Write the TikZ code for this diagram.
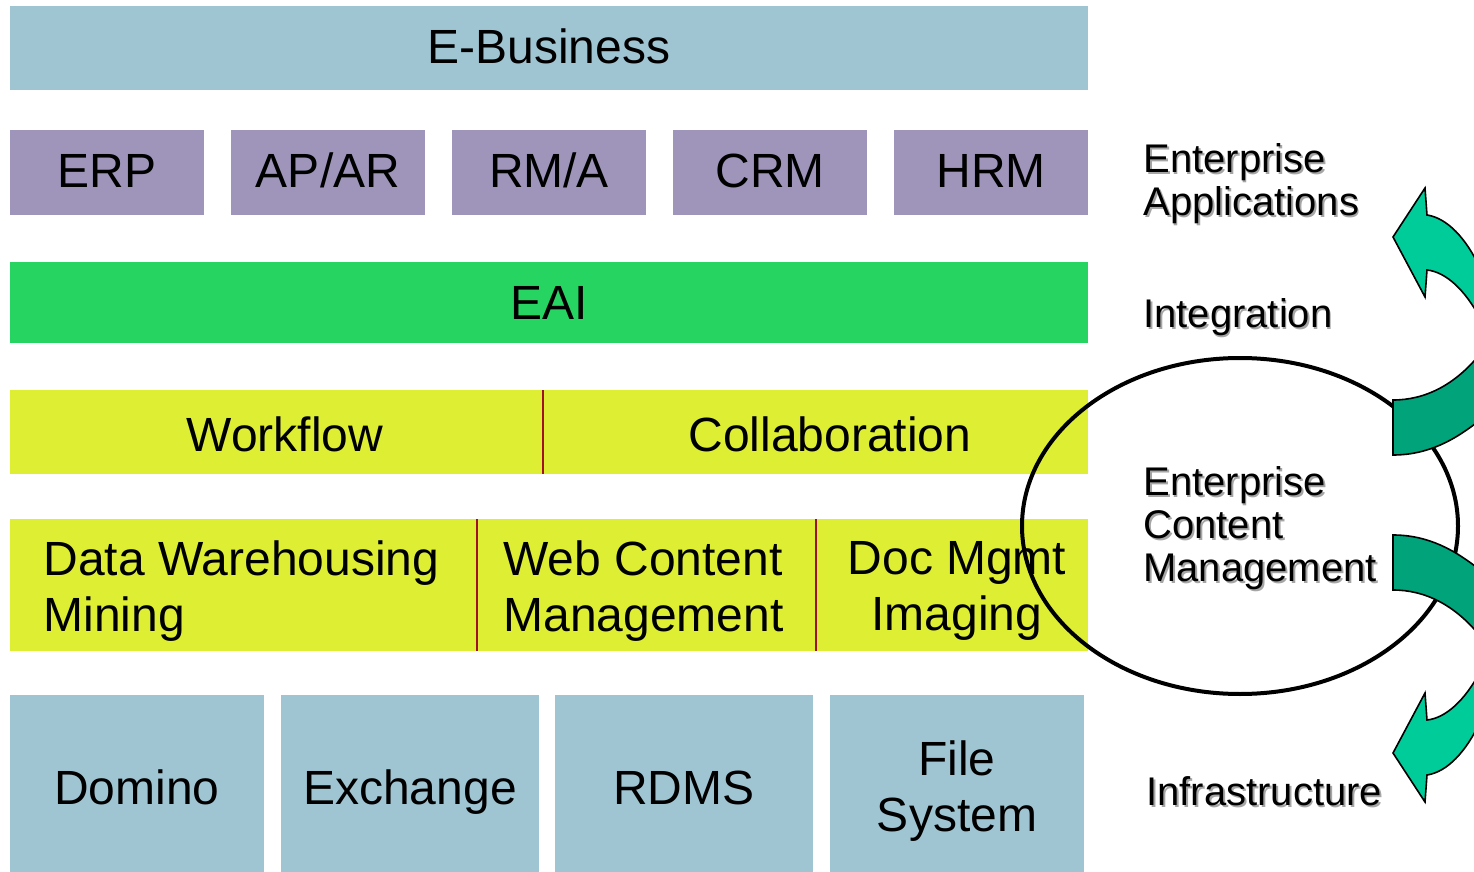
\documentclass[tikz,border=0pt]{standalone}
\usepackage{fontspec}
\usetikzlibrary{shapes.geometric}
\setmainfont{Liberation Sans}
\definecolor{lblue}{HTML}{9FC5D3}
\definecolor{lav}{HTML}{9F95BB}
\definecolor{eaig}{HTML}{26D462}
\definecolor{yel}{HTML}{DDEE33}
\definecolor{divred}{HTML}{A0102A}
\definecolor{arrl}{HTML}{00CC99}
\definecolor{arrd}{HTML}{00A37A}
\newcommand\shd[1]{\leavevmode\rlap{\hspace{0.9pt}\raisebox{-0.9pt}{\textcolor{black!35}{#1}}}#1}
\begin{document}
\begin{tikzpicture}[x=0.5pt,y=-0.5pt,
  box/.style={rectangle,inner sep=0pt,outer sep=0pt,draw=none},
  big/.style={font=\fontsize{24}{28}\selectfont,inner sep=0pt,text=black},
  bigb/.style={big,anchor=base},
  side/.style={font=\fontsize{20}{21.5}\selectfont,inner sep=0pt,align=left,anchor=west,text=black},
  divider/.style={draw=divred,line width=1pt},
  arrlight/.style={fill=arrl,draw=black,line width=0.8pt,line join=miter},
  arrdark/.style={fill=arrd,draw=black,line width=0.8pt,line join=miter}]
\useasboundingbox (0,0) rectangle (1474,872);
\fill[white] (0,0) rectangle (1474,872);
% top bar
\node[box,fill=lblue,minimum width=539pt,minimum height=42pt] (eb) at (549,48) {};
\node[bigb] (ebt) at (549,64) {E-Business};
% applications
\foreach \n/\cx/\t in {erp/107/{ERP},apar/328/{AP/AR},rma/549/{RM/A},crm/770/{CRM},hrm/991/{HRM}}{
  \node[box,fill=lav,minimum width=97pt,minimum height=42.5pt] (\n) at (\cx,172.5) {};
  \node[bigb] (\n t) at (\cx,188) {\t};
}
% EAI
\node[box,fill=eaig,minimum width=539pt,minimum height=40.5pt] (eai) at (549,302.5) {};
\node[bigb] (eait) at (549,319) {EAI};
% workflow / collaboration
\node[box,fill=yel,minimum width=539pt,minimum height=42pt] (wc) at (549,432) {};
\coordinate (d1a) at (543,390); \coordinate (d1b) at (543,474);
\draw[divider] (d1a) -- (d1b);
\node[bigb] (wf) at (285,451) {Workflow};
\node[bigb] (col) at (830,451) {Collaboration};
% content row
\node[box,fill=yel,minimum width=539pt,minimum height=66pt] (cr) at (549,585) {};
\coordinate (d2a) at (477,519); \coordinate (d2b) at (477,651);
\coordinate (d3a) at (816,519); \coordinate (d3b) at (816,651);
\draw[divider] (d2a) -- (d2b);
\draw[divider] (d3a) -- (d3b);
\node[big,align=left,anchor=west,font=\fontsize{24}{28}\selectfont] (dw) at (43,591) {Data Warehousing\\Mining};
\node[big,align=left,anchor=west,font=\fontsize{24}{28}\selectfont] (wcm) at (503,591) {Web Content\\Management};
\node[big,align=center,font=\fontsize{24}{28}\selectfont] (dm) at (957,591) {Doc Mgmt\\Imaging};
% infrastructure boxes
\foreach \n/\cx/\w in {dom/137/127,exc/410/129,rdms/684/129,fs/957/127}{
  \node[box,fill=lblue,minimum width=\w pt,minimum height=88.5pt] (\n) at (\cx,783.5) {};
}
\node[bigb] (domt) at (137,804) {Domino};
\node[bigb] (exct) at (410,804) {Exchange};
\node[bigb] (rdmst) at (684,804) {RDMS};
\node[big,align=center,font=\fontsize{24}{28}\selectfont] (fst) at (957,791) {File\\System};
% ellipse
\node[ellipse,draw=black,line width=2pt,minimum width=218pt,minimum height=168pt,inner sep=0pt] (ecm) at (1240,526) {};
% curved arrows (clipped at the right edge)
\begin{scope}
\clip (0,0) rectangle (1474,872);
\draw[arrdark] (1393,400) .. controls (1425,400) and (1455,385) .. (1480,354)
  -- (1480,420) .. controls (1455,440) and (1428,455) .. (1393,455) -- cycle;
\draw[arrlight] (1393,237) -- (1425,188) -- (1427,215)
  .. controls (1447,218) and (1466,238) .. (1480,268) -- (1480,318)
  .. controls (1465,290) and (1446,272) .. (1427,270) -- (1425,297) -- cycle;
\draw[arrdark] (1393,590) .. controls (1425,590) and (1455,605) .. (1480,636)
  -- (1480,570) .. controls (1455,550) and (1428,535) .. (1393,535) -- cycle;
\draw[arrlight] (1393,753) -- (1425,802) -- (1427,775)
  .. controls (1447,772) and (1466,752) .. (1480,722) -- (1480,672)
  .. controls (1465,700) and (1446,718) .. (1427,720) -- (1425,693) -- cycle;
\end{scope}
% side labels
\node[side] (ea) at (1143,185) {\shd{Enterprise}\\\shd{Applications}};
\node[side] (integ) at (1143,318) {\shd{Integration}};
\node[side] (ecmt) at (1143,529) {\shd{Enterprise}\\\shd{Content}\\\shd{Management}};
\node[side] (infra) at (1146,792) {\shd{Infrastructure}};
\end{tikzpicture}
\end{document}
